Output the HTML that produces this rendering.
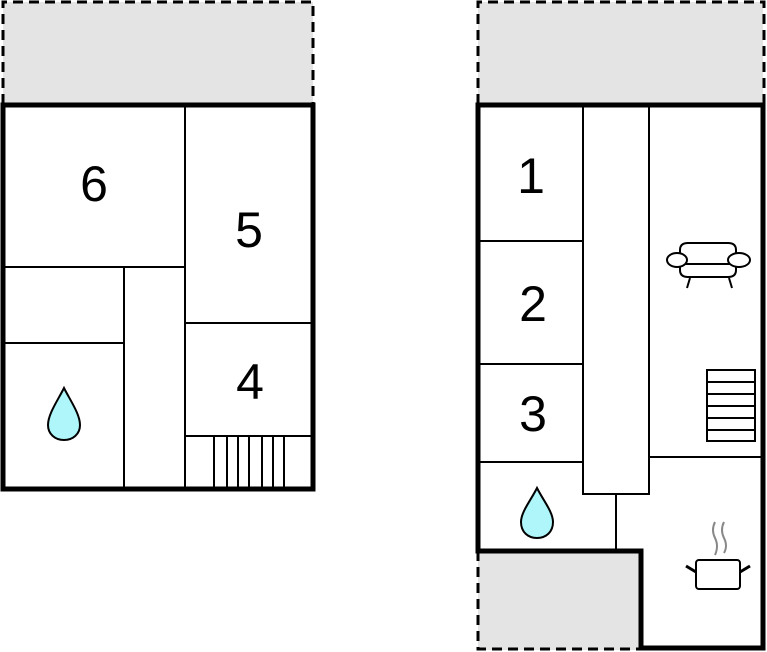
<!DOCTYPE html>
<html><head><style>html,body{margin:0;padding:0;background:#fff}svg{display:block}text{font-family:"Liberation Sans",sans-serif;font-size:50px;fill:#000;text-anchor:middle}</style></head>
<body>
<svg width="767" height="652" viewBox="0 0 767 652" xmlns="http://www.w3.org/2000/svg">
<rect x="3" y="2" width="310" height="103" fill="#e4e4e4"/>
<path d="M3 104 V2 H313 V104" fill="none" stroke="#000" stroke-width="3" stroke-dasharray="10,6"/>
<g stroke="#000" stroke-width="2" fill="none">
<line x1="185" y1="105" x2="185" y2="489"/>
<line x1="3" y1="267" x2="185" y2="267"/>
<line x1="124" y1="267" x2="124" y2="489"/>
<line x1="3" y1="343" x2="124" y2="343"/>
<line x1="185" y1="323" x2="313" y2="323"/>
<line x1="185" y1="436" x2="313" y2="436"/>
<line x1="214" y1="436" x2="214" y2="487"/>
<line x1="227" y1="436" x2="227" y2="487"/>
<line x1="238" y1="436" x2="238" y2="487"/>
<line x1="249" y1="436" x2="249" y2="487"/>
<line x1="262" y1="436" x2="262" y2="487"/>
<line x1="273" y1="436" x2="273" y2="487"/>
<line x1="284" y1="436" x2="284" y2="487"/>
</g>
<rect x="3" y="105" width="310" height="384" fill="none" stroke="#000" stroke-width="5"/>
<text x="94" y="201">6</text>
<text x="249" y="247">5</text>
<text x="250" y="399">4</text>
<path d="M64 388 C58 400 48 414 48 425 C48 434 55 440 64 440 C73 440 80 434 80 425 C80 414 70 400 64 388 Z" fill="#aff6fa" stroke="#000" stroke-width="2"/>

<rect x="478" y="2" width="285" height="103" fill="#e4e4e4"/>
<path d="M478 104 V2 H764 V104" fill="none" stroke="#000" stroke-width="3" stroke-dasharray="10,6"/>
<rect x="478" y="551" width="163" height="99" fill="#e4e4e4"/>
<path d="M478 551 V649 H641" fill="none" stroke="#000" stroke-width="3" stroke-dasharray="10,6"/>
<g stroke="#000" stroke-width="2" fill="none">
<line x1="583" y1="105" x2="583" y2="462"/>
<rect x="583" y="105" width="66" height="389"/>
<line x1="649" y1="105" x2="649" y2="457"/>
<line x1="478" y1="241" x2="583" y2="241"/>
<line x1="478" y1="364" x2="583" y2="364"/>
<line x1="478" y1="462" x2="583" y2="462"/>
<line x1="649" y1="457" x2="763" y2="457"/>
<line x1="616" y1="494" x2="616" y2="551"/>
<rect x="707" y="370" width="48" height="71"/>
<line x1="707" y1="382" x2="755" y2="382"/>
<line x1="707" y1="394" x2="755" y2="394"/>
<line x1="707" y1="406" x2="755" y2="406"/>
<line x1="707" y1="418" x2="755" y2="418"/>
<line x1="707" y1="430" x2="755" y2="430"/>
<path d="M680 256 V250 Q680 243 688 243 H728 Q736 243 736 250 V256"/>
<line x1="685" y1="264" x2="731" y2="264"/>
<path d="M680 267 V270 Q680 277 688 277 H728 Q736 277 736 270 V267"/>
<ellipse cx="677" cy="260" rx="10" ry="7" fill="#fff"/>
<ellipse cx="739" cy="260" rx="11" ry="7" fill="#fff"/>
<line x1="690" y1="278" x2="687" y2="288"/>
<line x1="729" y1="278" x2="732" y2="288"/>
<rect x="696" y="560" width="44" height="29" rx="3"/>
<line x1="686" y1="566" x2="696" y2="572" stroke-width="3"/>
<line x1="740" y1="572" x2="750" y2="566" stroke-width="3"/>
</g>
<g stroke="#888" stroke-width="2" fill="none">
<path d="M715 522 Q711 530 715 538 Q719 546 715 555"/>
<path d="M724 522 Q720 530 724 538 Q728 546 724 553"/>
</g>
<path d="M478 551 V105 H763 V648 H641 V551 Z" fill="none" stroke="#000" stroke-width="5"/>
<text x="531" y="193">1</text>
<text x="533" y="321">2</text>
<text x="533" y="431">3</text>
<path d="M537 488 C531 500 521 512 521 522 C521 532 528 538 537 538 C546 538 553 532 553 522 C553 512 543 500 537 488 Z" fill="#aff6fa" stroke="#000" stroke-width="2"/>
</svg>
</body></html>
